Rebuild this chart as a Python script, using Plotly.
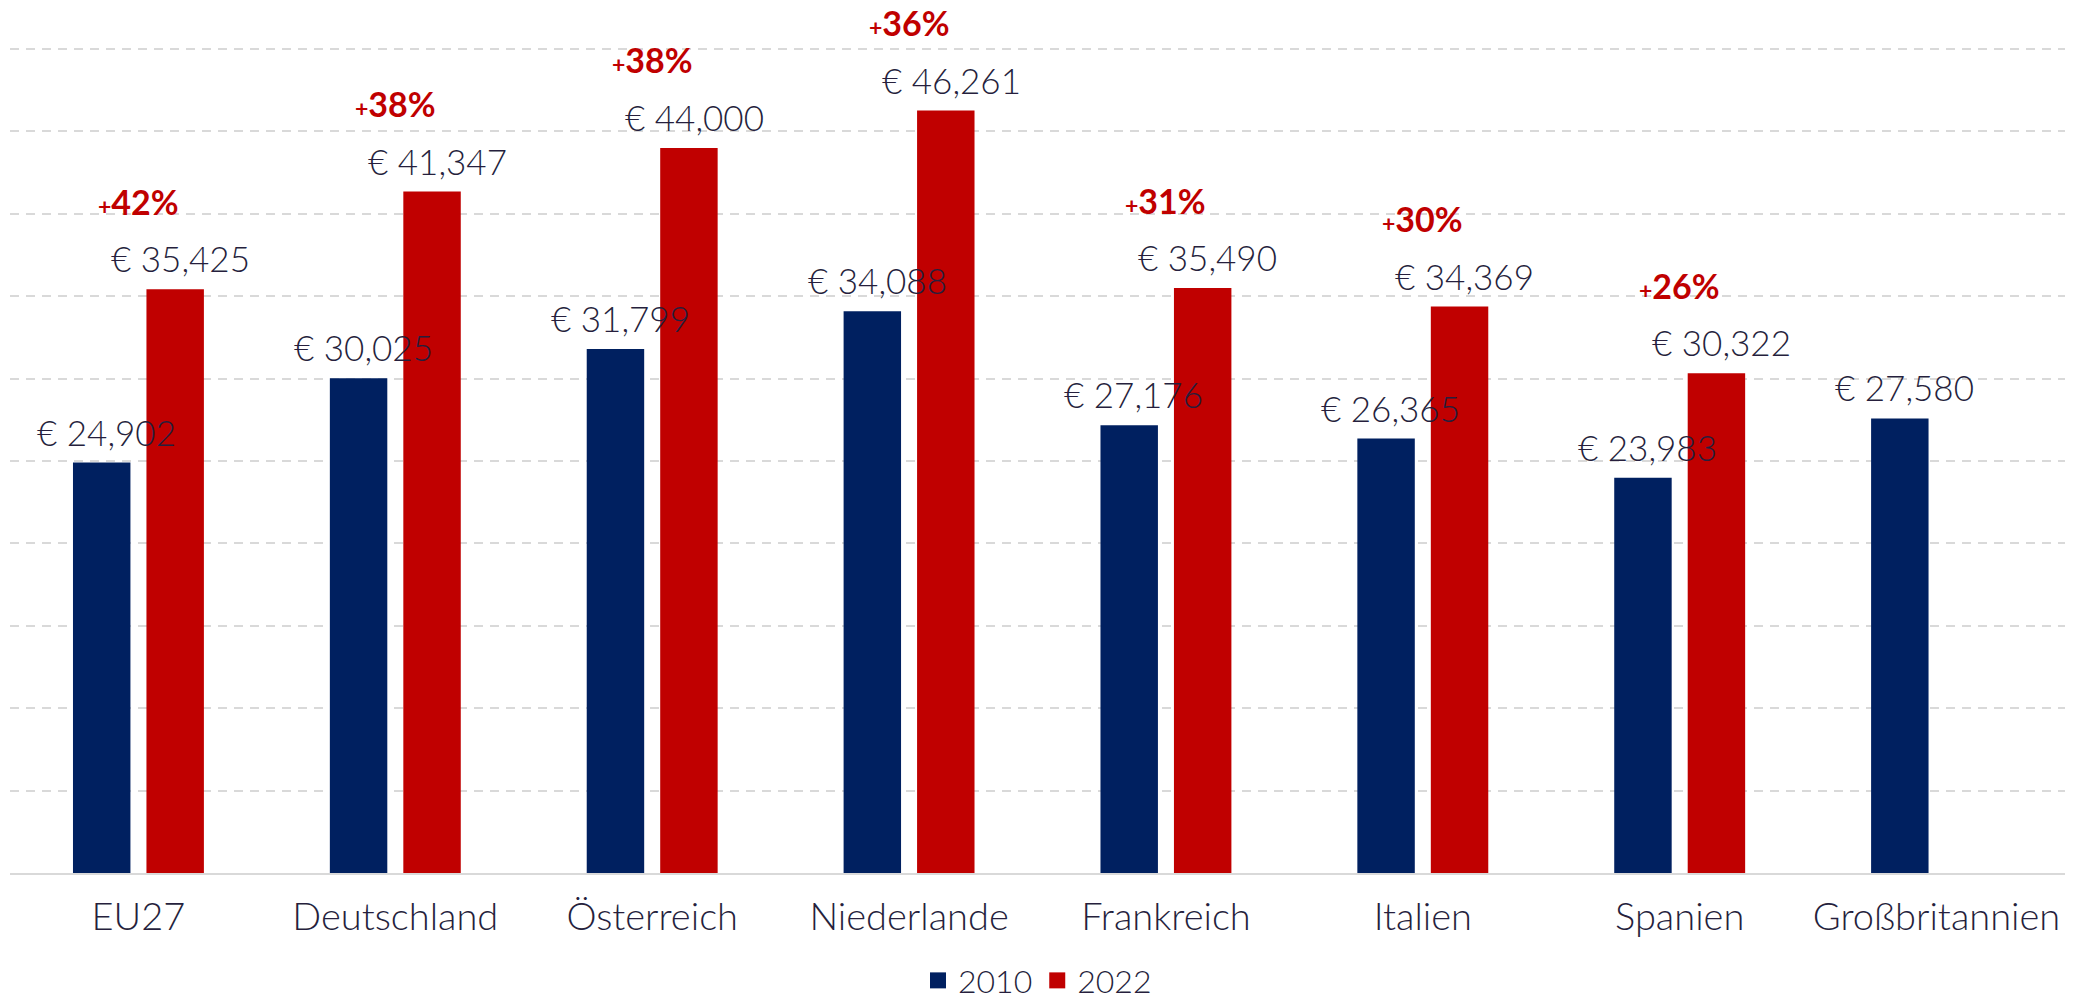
import plotly.graph_objects as go

categories = ["EU27", "Deutschland", "Österreich", "Niederlande",
              "Frankreich", "Italien", "Spanien", "Großbritannien"]
years = ["2010", "2022"]
v2010 = [24902, 30025, 31799, 34088, 27176, 26365, 23983, 27580]
v2022 = [35425, 41347, 44000, 46261, 35490, 34369, 30322, None]

navy = "#002060"
red = "#C00000"
txt = "#261f3d"
font = "Lato, 'Open Sans', sans-serif"

fig = go.Figure()
fig.add_trace(go.Bar(x=categories, y=v2010, name=years[0], marker_color=navy,
                     marker_line_width=0, showlegend=False))
fig.add_trace(go.Bar(x=categories, y=v2022, name=years[1], marker_color=red,
                     marker_line_width=0, showlegend=False))
# legend entries with bigger square swatches
for yr, col in zip(years, [navy, red]):
    fig.add_trace(go.Scatter(x=[None], y=[None], mode="markers", name=yr,
                             marker=dict(symbol="square", size=20, color=col)))

# value labels (annotations so they sit on top of neighbouring bars)
for cat, a, b in zip(categories, v2010, v2022):
    fig.add_annotation(x=cat, y=a, text=f"€ {a:,}", showarrow=False,
                       xshift=-32, yshift=8, yanchor="bottom",
                       font=dict(size=35, color=txt, family=font, weight=300))
    if b is not None:
        fig.add_annotation(x=cat, y=b, text=f"€ {b:,}", showarrow=False,
                           xshift=42, yshift=8, yanchor="bottom",
                           font=dict(size=35, color=txt, family=font, weight=300))
        pct = round((b / a - 1) * 100)
        fig.add_annotation(x=cat, y=b,
                           text=f"<span style='font-size:23px'>+</span>{pct}%",
                           showarrow=False, yshift=88, yanchor="middle",
                           font=dict(size=34, color=red, family=font, weight=700))

# page body adds an 8px margin, so the figure is 8px smaller than the window
fig.update_layout(
    width=2067, height=992,
    margin=dict(l=2, r=10, t=4, b=127, autoexpand=False),
    plot_bgcolor="white", paper_bgcolor="white",
    barmode="group", bargap=0.428, bargroupgap=0.218,
    font=dict(family=font, color=txt, size=38, weight=300),
    showlegend=True,
    legend=dict(orientation="h", x=0.5, xanchor="center", y=-0.093, yanchor="top",
                font=dict(size=32, color=txt, family=font, weight=300),
                itemwidth=30, traceorder="normal"),
)
fig.update_xaxes(showline=True, linecolor="#d9d9d9", linewidth=2,
                 ticks="", ticklabelstandoff=9,
                 tickfont=dict(size=38, color=txt, family=font, weight=300))
fig.update_yaxes(range=[0, 52245], dtick=5000, showticklabels=False,
                 showgrid=True, gridcolor="#d9d9d9", gridwidth=1.5,
                 griddash="9px,7px", zeroline=False)

fig.write_html("out.html")
